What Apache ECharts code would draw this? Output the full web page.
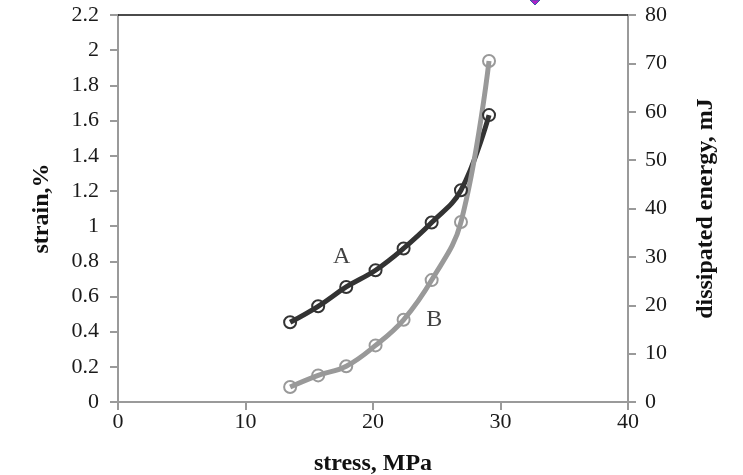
<!DOCTYPE html>
<html>
<head>
<meta charset="utf-8">
<script src="https://cdn.jsdelivr.net/npm/echarts@6/dist/echarts.min.js"></script>
<style>html,body{margin:0;padding:0;background:#fff}#c{width:743px;height:475px}</style>
</head>
<body>
<div id="c"></div>
<script>
const stress = [13.5, 15.7, 17.9, 20.2, 22.4, 24.6, 26.9, 29.1];
const strainA = [0.453, 0.544, 0.654, 0.749, 0.873, 1.02, 1.204, 1.631];
const energyB = [3.1, 5.5, 7.4, 11.7, 17.0, 25.2, 37.2, 70.5];
const xTicks = [0, 10, 20, 30, 40];
const leftTicks = [0, 0.2, 0.4, 0.6, 0.8, 1, 1.2, 1.4, 1.6, 1.8, 2, 2.2];
const rightTicks = [0, 10, 20, 30, 40, 50, 60, 70, 80];
const curveLabels = [{text: 'A', x: 17.55, y: 0.826}, {text: 'B', x: 24.8, y: 0.465}];

const FONT = '"Liberation Serif", "Times New Roman", serif';
const axisGray = '#9a9a9a';

const chart = echarts.init(document.getElementById('c'));

const labelStyle = {color: '#1a1a1a', fontFamily: FONT, fontSize: 22};
const nameStyle = {color: '#111', fontFamily: FONT, fontSize: 24, fontWeight: 'bold'};

chart.setOption({
  animation: false,
  backgroundColor: '#fff',
  grid: {left: 118, right: 115, top: 15, bottom: 73, containLabel: false, outerBoundsMode: 'none'},
  xAxis: [{
    type: 'value', min: xTicks[0], max: xTicks[xTicks.length - 1], interval: 10,
    position: 'bottom',
    name: 'stress, MPa', nameLocation: 'middle', nameGap: 50, nameTextStyle: nameStyle,
    axisLine: {show: true, onZero: false, lineStyle: {color: axisGray, width: 2}},
    axisTick: {show: true, inside: false, length: 8, lineStyle: {color: axisGray, width: 2}},
    axisLabel: Object.assign({margin: 9}, labelStyle),
    splitLine: {show: false}
  }, {
    type: 'value', min: 0, max: 40, position: 'top',
    axisLine: {show: true, onZero: false, lineStyle: {color: '#111', width: 1.5}},
    axisTick: {show: false}, axisLabel: {show: false}, splitLine: {show: false}
  }],
  yAxis: [{
    type: 'value', min: leftTicks[0], max: leftTicks[leftTicks.length - 1], interval: 0.2,
    position: 'left',
    name: 'strain,%', nameLocation: 'middle', nameGap: 64, nameTextStyle: nameStyle,
    axisLine: {show: true, onZero: false, lineStyle: {color: axisGray, width: 2}},
    axisTick: {show: true, inside: false, length: 8, lineStyle: {color: axisGray, width: 2}},
    axisLabel: Object.assign({margin: 19, formatter: v => String(+v.toFixed(1))}, labelStyle),
    splitLine: {show: false}
  }, {
    type: 'value', min: rightTicks[0], max: rightTicks[rightTicks.length - 1], interval: 10,
    position: 'right',
    name: 'dissipated energy, mJ', nameLocation: 'middle', nameGap: 66, nameRotate: 90,
    nameTextStyle: nameStyle,
    axisLine: {show: true, onZero: false, lineStyle: {color: axisGray, width: 2}},
    axisTick: {show: true, inside: false, length: 8, lineStyle: {color: axisGray, width: 2}},
    axisLabel: Object.assign({margin: 17}, labelStyle),
    splitLine: {show: false}
  }],
  series: [{
    name: 'A', type: 'line', xAxisIndex: 0, yAxisIndex: 0,
    data: stress.map((x, i) => [x, strainA[i]]),
    smooth: 0.4,
    lineStyle: {color: '#333', width: 5},
    symbol: 'circle', symbolSize: 12,
    itemStyle: {color: 'rgba(255,255,255,0)', borderColor: '#333', borderWidth: 2}
  }, {
    name: 'B', type: 'line', xAxisIndex: 0, yAxisIndex: 1,
    data: stress.map((x, i) => [x, energyB[i]]),
    smooth: 0.4,
    lineStyle: {color: '#999', width: 5},
    symbol: 'circle', symbolSize: 12,
    itemStyle: {color: 'rgba(255,255,255,0)', borderColor: '#999', borderWidth: 2}
  }, {
    name: 'labels', type: 'scatter', xAxisIndex: 0, yAxisIndex: 0,
    data: curveLabels.map(d => ({value: [d.x, d.y], name: d.text})),
    symbolSize: 0, silent: true,
    label: {show: true, position: 'inside', formatter: p => p.name,
      color: '#111', fontFamily: FONT, fontSize: 24}
  }],
  graphic: [{
    type: 'polygon', shape: {points: [[530, 0], [540, 0], [535, 5]]},
    style: {fill: '#b020c8', stroke: '#3a5aa8', lineWidth: 1}
  }]
});
</script>
</body>
</html>
